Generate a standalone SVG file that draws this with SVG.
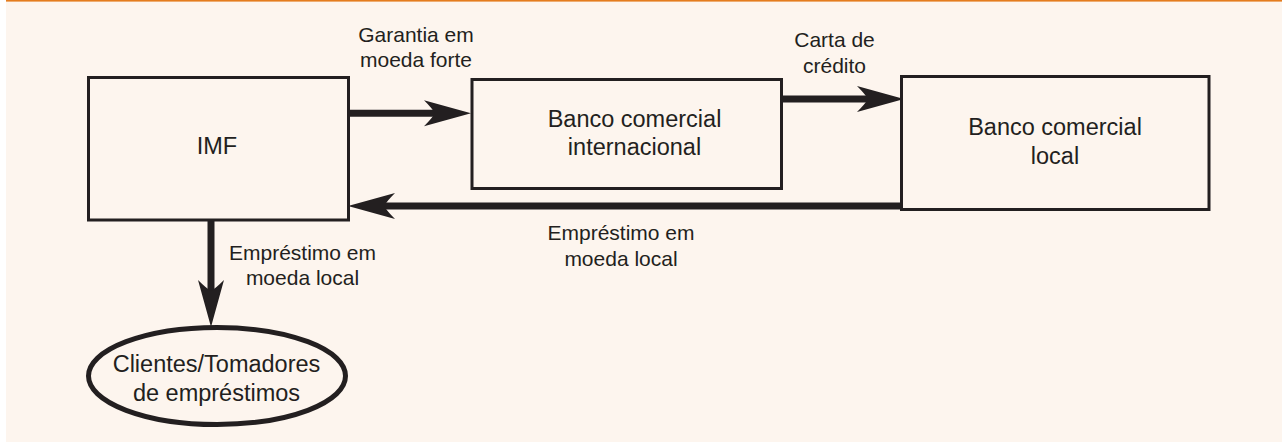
<svg xmlns="http://www.w3.org/2000/svg" width="1282" height="444" viewBox="0 0 1282 444">
  <style>
    .box { fill: #fdf5ee; stroke: #231f20; stroke-width: 3; }
    .ell { fill: #fdf5ee; stroke: #231f20; stroke-width: 5; }
    .conn { fill: none; stroke: #231f20; stroke-width: 7; marker-end: url(#head); }
    .node { font-family: "Liberation Sans", Arial, sans-serif; font-size: 23.5px; fill: #231f20; text-anchor: middle; }
    .lbl { font-family: "Liberation Sans", Arial, sans-serif; font-size: 21px; fill: #231f20; text-anchor: middle; }
  </style>
  <defs>
    <marker id="head" markerUnits="userSpaceOnUse" viewBox="-12 -14 50 28" markerWidth="50" markerHeight="28" refX="5" refY="0" orient="auto">
      <path d="M36,0 L-11,-13 Q-3,-5 0,0 Q-3,5 -11,13 Z" fill="#231f20"/>
    </marker>
  </defs>
  <rect x="0" y="0" width="1282" height="444" fill="#ffffff"/>
  <rect x="6" y="0" width="1276" height="442" fill="#fdf5ee"/>
  <rect x="6" y="0" width="1276" height="1.6" fill="#e47c1e"/>

  <g id="connectors">
    <path class="conn" d="M349,113.3 L440,113.3"/>
    <path class="conn" d="M782,99 L873,99"/>
    <path class="conn" d="M901,206 L379,206"/>
    <path class="conn" d="M211,221 L211,296"/>
    <text class="lbl" x="416" y="42">Garantia em</text>
    <text class="lbl" x="416" y="66.5">moeda forte</text>
    <text class="lbl" x="834.5" y="47">Carta de</text>
    <text class="lbl" x="834.5" y="73.3">crédito</text>
    <text class="lbl" x="621" y="240">Empréstimo em</text>
    <text class="lbl" x="621" y="266">moeda local</text>
    <text class="lbl" x="302.5" y="260">Empréstimo em</text>
    <text class="lbl" x="302.5" y="285">moeda local</text>
  </g>

  <g id="imf">
    <rect class="box" x="88.5" y="77.5" width="260" height="142.5"/>
    <text class="node" x="217" y="154">IMF</text>
  </g>
  <g id="banco-internacional">
    <rect class="box" x="472" y="79.5" width="309.5" height="109"/>
    <text class="node" x="634.5" y="126.7">Banco comercial</text>
    <text class="node" x="634.5" y="155">internacional</text>
  </g>
  <g id="banco-local">
    <rect class="box" x="901.5" y="76.5" width="307.5" height="133"/>
    <text class="node" x="1055" y="135">Banco comercial</text>
    <text class="node" x="1055" y="164">local</text>
  </g>
  <g id="clientes">
    <ellipse class="ell" cx="217" cy="376" rx="128.5" ry="48.5"/>
    <text class="node" x="216.5" y="371.7">Clientes/Tomadores</text>
    <text class="node" x="216.5" y="400.7">de empréstimos</text>
  </g>
</svg>
